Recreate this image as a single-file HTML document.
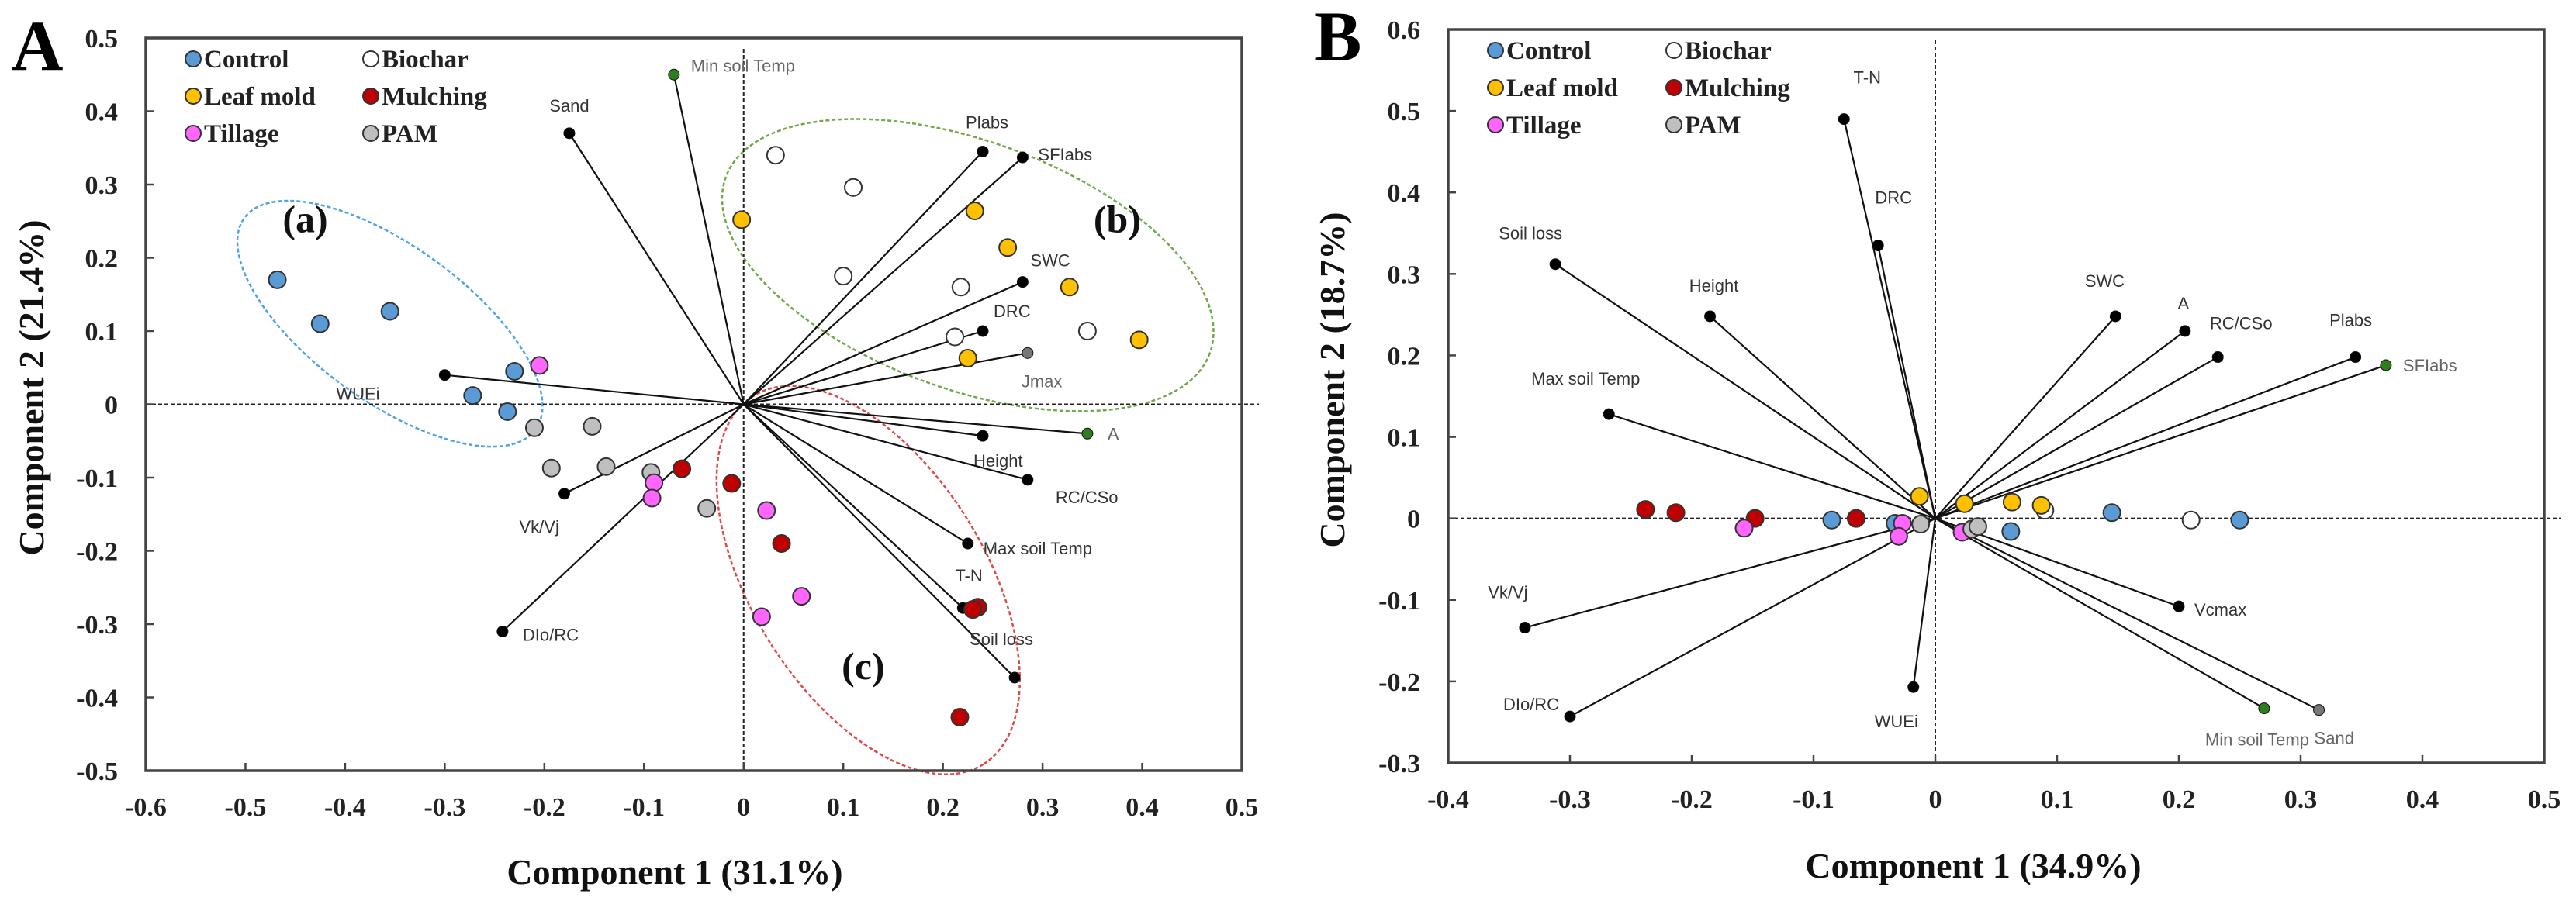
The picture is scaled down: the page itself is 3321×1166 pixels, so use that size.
<!DOCTYPE html>
<html><head><meta charset="utf-8"><style>
html,body{margin:0;padding:0;background:#fff;}
svg{display:block;}
</style></head><body>
<svg id="chart" width="3321" height="1166" viewBox="0 0 3321 1166" xmlns="http://www.w3.org/2000/svg"></svg>
<script>
// ---------- Panel A data ----------
const aVecNames = ["Min soil Temp","Sand","Plabs","SFIabs","SWC","DRC","Jmax","A","Height","RC/CSo","Max soil Temp","T-N","Soil loss","WUEi","Vk/Vj","DIo/RC"];
const aVecX = [-0.07,-0.175,0.24,0.28,0.28,0.24,0.285,0.345,0.24,0.285,0.225,0.22,0.272,-0.30,-0.18,-0.242];
const aVecY = [0.45,0.37,0.345,0.337,0.167,0.10,0.07,-0.04,-0.043,-0.103,-0.19,-0.278,-0.373,0.04,-0.122,-0.31];
const aVecDot = ["green","black","black","black","black","black","gray","green","black","black","black","black","black","black","black","black"];
const aCtrlX = [-0.468,-0.425,-0.355,-0.23,-0.272,-0.237];
const aCtrlY = [0.17,0.11,0.127,0.045,0.012,-0.01];
const aBioX = [0.032,0.11,0.10,0.218,0.212,0.345];
const aBioY = [0.34,0.296,0.175,0.16,0.092,0.10];
const aLeafX = [-0.002,0.232,0.265,0.327,0.225,0.397];
const aLeafY = [0.252,0.264,0.214,0.16,0.063,0.088];
const aMulX = [-0.062,-0.012,0.038,0.235,0.23,0.217];
const aMulY = [-0.088,-0.108,-0.19,-0.277,-0.28,-0.427];
const aTilX = [-0.205,-0.09,-0.092,0.023,0.058,0.018];
const aTilY = [0.053,-0.107,-0.128,-0.145,-0.262,-0.29];
const aPamX = [-0.21,-0.152,-0.193,-0.138,-0.093,-0.037];
const aPamY = [-0.032,-0.03,-0.087,-0.085,-0.093,-0.142];
const aXTicks = ["-0.6","-0.5","-0.4","-0.3","-0.2","-0.1","0","0.1","0.2","0.3","0.4","0.5"];
const aYTicks = ["-0.5","-0.4","-0.3","-0.2","-0.1","0","0.1","0.2","0.3","0.4","0.5"];

// ---------- Panel B data ----------
const bVecNames = ["T-N","DRC","Soil loss","Height","Max soil Temp","SWC","A","RC/CSo","Plabs","SFIabs","Vcmax","Min soil Temp","Sand","WUEi","Vk/Vj","DIo/RC"];
const bVecX = [-0.075,-0.047,-0.312,-0.185,-0.268,0.148,0.205,0.232,0.345,0.37,0.2,0.27,0.315,-0.018,-0.337,-0.3];
const bVecY = [0.49,0.335,0.312,0.248,0.128,0.248,0.23,0.198,0.198,0.188,-0.108,-0.233,-0.235,-0.207,-0.134,-0.243];
const bVecDot = ["black","black","black","black","black","black","black","black","black","green","black","green","gray","black","black","black"];
const bCtrlX = [-0.085,-0.033,0.062,0.145,0.25];
const bCtrlY = [-0.002,-0.006,-0.016,0.007,-0.002];
const bBioX = [0.21,0.09];
const bBioY = [-0.002,0.01];
const bLeafX = [-0.013,0.024,0.063,0.087];
const bLeafY = [0.027,0.018,0.02,0.016];
const bMulX = [-0.238,-0.213,-0.148,-0.065];
const bMulY = [0.011,0.007,0,0];
const bTilX = [-0.157,-0.027,-0.03,0.022];
const bTilY = [-0.012,-0.006,-0.022,-0.017];
const bPamX = [-0.012,0.03,0.035];
const bPamY = [-0.007,-0.013,-0.01];
const bXTicks = ["-0.4","-0.3","-0.2","-0.1","0","0.1","0.2","0.3","0.4","0.5"];
const bYTicks = ["-0.3","-0.2","-0.1","0","0.1","0.2","0.3","0.4","0.5","0.6"];

// label placement (style, not data)
const aLab = {"Min soil Temp":[22,-4,"start"],"Sand":[0,-28,"middle"],"Plabs":[-22,-30,"start"],"SFIabs":[20,4,"start"],"SWC":[10,-20,"start"],"DRC":[14,-18,"start"],"Jmax":[-8,44,"start"],"A":[26,8,"start"],"Height":[-12,40,"start"],"RC/CSo":[36,30,"start"],"Max soil Temp":[20,14,"start"],"T-N":[-10,-34,"start"],"Soil loss":[-58,-42,"start"],"WUEi":[-140,32,"start"],"Vk/Vj":[-58,50,"start"],"DIo/RC":[26,12,"start"]};
const bLab = {"T-N":[30,-46,"middle"],"DRC":[20,-54,"middle"],"Soil loss":[-32,-32,"middle"],"Height":[5,-32,"middle"],"Max soil Temp":[-30,-38,"middle"],"SWC":[-14,-38,"middle"],"A":[-2,-28,"middle"],"RC/CSo":[30,-36,"middle"],"Plabs":[-6,-40,"middle"],"SFIabs":[22,8,"start"],"Vcmax":[20,12,"start"],"Min soil Temp":[-76,48,"start"],"Sand":[-6,44,"start"],"WUEi":[-22,52,"middle"],"Vk/Vj":[-22,-38,"middle"],"DIo/RC":[-50,-8,"middle"]};

const NS="http://www.w3.org/2000/svg";
const svg=document.getElementById('chart');
function mk(tag,attrs,parent){const e=document.createElementNS(NS,tag);for(const k in attrs)e.setAttribute(k,attrs[k]);(parent||svg).appendChild(e);return e;}
const SERIF='"Liberation Serif", serif', SANS='"Liberation Sans", sans-serif';
const colors={Control:"#5b9bd5",Biochar:"#ffffff","Leaf mold":"#ffc000",Mulching:"#c00000",Tillage:"#ff66ff",PAM:"#bfbfbf"};
const dotCol={black:"#000",green:"#2e7d1e",gray:"#777"};

function panel(cfg){
  const g=mk('g',{});
  
  
  const sx=v=>cfg.L+(v-cfg.xmin)/(cfg.xmax-cfg.xmin)*(cfg.R-cfg.L);
  const sy=v=>cfg.B-(v-cfg.ymin)/(cfg.ymax-cfg.ymin)*(cfg.B-cfg.T);
  (cfg.ellipses||[]).forEach(el=>{
    const e=mk('ellipse',{cx:sx(el.cx),cy:sy(el.cy),rx:el.rx,ry:el.ry,transform:`rotate(${el.rot} ${sx(el.cx)} ${sy(el.cy)})`,fill:'none',stroke:el.col,'stroke-width':2.5,'stroke-dasharray':'5 3'},g);
    
    
    const t=mk('text',{x:sx(el.lx),y:sy(el.ly),'font-family':SERIF,'font-weight':'bold','font-size':50,'text-anchor':'middle',fill:'#111'},g);
    t.textContent='('+el.tag+')';
    
    
  });
  const zh=mk('line',{x1:cfg.L,x2:cfg.R+22,y1:sy(0),y2:sy(0),stroke:'#222','stroke-width':2,'stroke-dasharray':'5 3'},g);
  
  const zv=mk('line',{x1:sx(0),x2:sx(0),y1:cfg.T+14,y2:cfg.B,stroke:'#222','stroke-width':2,'stroke-dasharray':'5 3'},g);
  
  cfg.vn.forEach((n,i)=>{
    const x=sx(cfg.vx[i]),y=sy(cfg.vy[i]);
    const l=mk('line',{x1:sx(0),y1:sy(0),x2:x,y2:y,stroke:'#111','stroke-width':2.2},g);
    
    
    const d=mk('circle',{cx:x,cy:y,r:7,fill:dotCol[cfg.vd[i]],stroke:'#111','stroke-width':1},g);
    
    const o=cfg.lab[n]||[10,-10,'start'];
    const t=mk('text',{x:x+o[0],y:y+o[1],'font-family':SANS,'font-size':22,'text-anchor':o[2],fill:(cfg.vd[i]==='black'?'#333':'#666')},g);
    t.textContent=n;
    
  });
  cfg.series.forEach(s=>{
    s.x.forEach((v,i)=>{
      const c=mk('circle',{cx:sx(v),cy:sy(s.y[i]),r:11,fill:colors[s.name],stroke:'#333','stroke-width':2},g);
      
      
    });
  });
  const f=mk('rect',{x:cfg.L,y:cfg.T,width:cfg.R-cfg.L,height:cfg.B-cfg.T,fill:'none',stroke:'#444','stroke-width':3.5},g);
  
  cfg.xt.forEach(lbl=>{
    const v=parseFloat(lbl),x=sx(v);
    const tk=mk('line',{x1:x,x2:x,y1:cfg.B,y2:cfg.B-10,stroke:'#444','stroke-width':2.5},g);
    
    const t=mk('text',{x:x,y:cfg.B+58,'font-family':SERIF,'font-weight':'bold','font-size':34,'text-anchor':'middle',fill:'#222'},g);
    t.textContent=lbl;
  });
  cfg.yt.forEach(lbl=>{
    const v=parseFloat(lbl),y=sy(v);
    const tk=mk('line',{x1:cfg.L,x2:cfg.L+10,y1:y,y2:y,stroke:'#444','stroke-width':2.5},g);
    
    const t=mk('text',{x:cfg.L-36,y:y+12,'font-family':SERIF,'font-weight':'bold','font-size':34,'text-anchor':'end',fill:'#222'},g);
    t.textContent=lbl;
  });
  const xt=mk('text',{x:cfg.xtx,y:cfg.xty,'font-family':SERIF,'font-weight':'bold','font-size':46,'text-anchor':'middle',fill:'#111'},g);
  xt.textContent=cfg.xtitle;
  const yt=mk('text',{x:0,y:0,transform:`translate(${cfg.ytx} ${cfg.yty}) rotate(-90)`,'font-family':SERIF,'font-weight':'bold','font-size':46,'text-anchor':'middle',fill:'#111'},g);
  yt.textContent=cfg.ytitle;
  const pl=mk('text',{x:cfg.plx,y:cfg.ply,'font-family':SERIF,'font-weight':'bold','font-size':92,fill:'#000'},g);
  pl.textContent=cfg.letter;
  const names=[["Control","Biochar"],["Leaf mold","Mulching"],["Tillage","PAM"]];
  names.forEach((row,r)=>row.forEach((n,c)=>{
    const cx=cfg.legX[c],cy=cfg.legY+r*48;
    const m=mk('circle',{cx:cx,cy:cy,r:10,fill:colors[n],stroke:'#333','stroke-width':2},g);
    
    const t=mk('text',{x:cx+14,y:cy+11,'font-family':SERIF,'font-weight':'bold','font-size':33,fill:'#222'},g);
    t.textContent=n;
  }));
}

panel({id:'a',letter:'A',L:188,R:1601,T:49,B:994,xmin:-0.6,xmax:0.5,ymin:-0.5,ymax:0.5,
  vn:aVecNames,vx:aVecX,vy:aVecY,vd:aVecDot,lab:aLab,xt:aXTicks,yt:aYTicks,
  series:[{name:'Control',x:aCtrlX,y:aCtrlY},{name:'Biochar',x:aBioX,y:aBioY},{name:'Leaf mold',x:aLeafX,y:aLeafY},{name:'PAM',x:aPamX,y:aPamY},{name:'Mulching',x:aMulX,y:aMulY},{name:'Tillage',x:aTilX,y:aTilY}],
  ellipses:[{tag:'a',cx:-0.355,cy:0.11,rx:232,ry:100,rot:36,col:'#4fa3e0',lx:-0.44,ly:0.235},
            {tag:'b',cx:0.225,cy:0.19,rx:332,ry:160,rot:20,col:'#70a84a',lx:0.375,ly:0.235},
            {tag:'c',cx:0.125,cy:-0.24,rx:280,ry:150,rot:58,col:'#e04848',lx:0.12,ly:-0.375}],
  xtitle:'Component 1 (31.1%)',xtx:870,xty:1140,ytitle:'Component 2 (21.4%)',ytx:56,yty:500,
  plx:15,ply:90,legX:[249,478],legY:76});

panel({id:'b',letter:'B',L:1867,R:3280,T:38,B:984,xmin:-0.4,xmax:0.5,ymin:-0.3,ymax:0.6,
  vn:bVecNames,vx:bVecX,vy:bVecY,vd:bVecDot,lab:bLab,xt:bXTicks,yt:bYTicks,
  series:[{name:'Control',x:bCtrlX,y:bCtrlY},{name:'Biochar',x:bBioX,y:bBioY},{name:'Leaf mold',x:bLeafX,y:bLeafY},{name:'Mulching',x:bMulX,y:bMulY},{name:'Tillage',x:bTilX,y:bTilY},{name:'PAM',x:bPamX,y:bPamY}],
  ellipses:[],
  xtitle:'Component 1 (34.9%)',xtx:2544,xty:1132,ytitle:'Component 2 (18.7%)',ytx:1733,yty:490,
  plx:1694,ply:78,legX:[1928,2158],legY:65});
</script>
</body></html>
